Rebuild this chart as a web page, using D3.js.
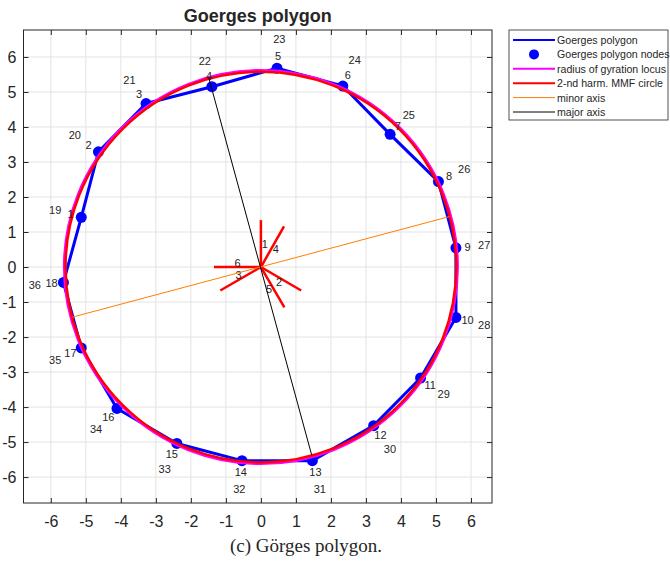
<!DOCTYPE html>
<html>
<head>
<meta charset="utf-8">
<script src="https://cdn.jsdelivr.net/npm/d3@7"></script>
<style>
  body { margin: 0; background: #fff; }
  text { font-family: "Liberation Sans", Arial, sans-serif; fill: #262626; }
</style>
</head>
<body>
<div id="chart"></div>
<script>
// node coordinates of the polygon
const nodeX = [-5.13, -4.64, -3.28, -1.40, 0.46, 2.34, 3.69, 5.07, 5.57, 5.57, 4.56, 3.22, 1.47, -0.54, -2.40, -4.11, -5.13, -5.64];
const nodeY = [1.42, 3.29, 4.67, 5.15, 5.68, 5.17, 3.79, 2.44, 0.55, -1.44, -3.17, -4.53, -5.53, -5.53, -5.04, -4.04, -2.31, -0.44];
const innerLabels = ['1','2','3','4','5','6','7','8','9','10','11','12','13','14','15','16','17','18'];
const outerLabels = ['19','20','21','22','23','24','25','26','27','28','29','30','31','32','33','34','35','36'];

// star of slot vectors
const starX = [0, 1.15, -1.16, 0.66, 0.67, -1.34];
const starY = [1.34, -0.67, -0.67, 1.16, -1.15, 0];
const starLabels = ['1','2','3','4','5','6'];

// circles
const gyrationRadius = 5.62;
const mmfRadius = 5.58;

// axes of inertia
const minorX = [-5.38, 5.38];
const minorY = [-1.43, 1.44];
const majorX = [-1.49, 1.45];
const majorY = [5.41, -5.37];

const ticks = [-6, -5, -4, -3, -2, -1, 0, 1, 2, 3, 4, 5, 6];

const legendItems = ['Goerges polygon', 'Goerges polygon nodes', 'radius of gyration locus',
                     '2-nd harm. MMF circle', 'minor axis', 'major axis'];

const W = 670, H = 564;
const box = { left: 23.5, right: 492, top: 30, bottom: 503 };

const svg = d3.select('#chart')
              .append('svg')
              .attr('width', W)
              .attr('height', H);

svg.append('rect').attr('width', W).attr('height', H).attr('fill', '#fff');

const x = d3.scaleLinear().domain([-6.78, 6.6]).range([box.left, box.right]);
const y = d3.scaleLinear().domain([-6.74, 6.77]).range([box.bottom, box.top]);

// grid
const grid = svg.append('g').attr('stroke', '#e3e3e3').attr('stroke-width', 1);
grid.selectAll('.gx').data(ticks).enter().append('line')
    .attr('x1', d => x(d)).attr('x2', d => x(d))
    .attr('y1', box.top).attr('y2', box.bottom);
grid.selectAll('.gy').data(ticks).enter().append('line')
    .attr('y1', d => y(d)).attr('y2', d => y(d))
    .attr('x1', box.left).attr('x2', box.right);

// axes (plain hyphen minus like the original)
const fmt = d => String(d);
const bottomAxis = d3.axisBottom(x).tickValues(ticks).tickFormat(fmt).tickSize(-5).tickPadding(13);
const leftAxis = d3.axisLeft(y).tickValues(ticks).tickFormat(fmt).tickSize(-5).tickPadding(7);
const topAxis = d3.axisTop(x).tickValues(ticks).tickSize(-5).tickFormat('');
const rightAxis = d3.axisRight(y).tickValues(ticks).tickSize(-5).tickFormat('');

function styleAxis(g) {
  g.select('.domain').remove();
  g.selectAll('line').attr('stroke', '#262626');
  g.selectAll('text').attr('fill', '#262626').style('font-size', '16px')
   .style('font-family', '"Liberation Sans", Arial, sans-serif');
}

svg.append('g').attr('transform', `translate(0, ${box.bottom})`).call(bottomAxis).call(styleAxis);
svg.append('g').attr('transform', `translate(${box.left}, 0)`).call(leftAxis).call(styleAxis);
svg.append('g').attr('transform', `translate(0, ${box.top})`).call(topAxis).call(styleAxis);
svg.append('g').attr('transform', `translate(${box.right}, 0)`).call(rightAxis).call(styleAxis);

svg.append('rect')
   .attr('x', box.left).attr('y', box.top)
   .attr('width', box.right - box.left).attr('height', box.bottom - box.top)
   .attr('fill', 'none').attr('stroke', '#262626').attr('stroke-width', 1);

const plot = svg.append('g');
const nodes = nodeX.map((d, i) => [d, nodeY[i]]);

// polygon
plot.append('path')
    .datum(nodes)
    .attr('d', d3.line().x(d => x(d[0])).y(d => y(d[1])).curve(d3.curveLinearClosed))
    .attr('fill', 'none').attr('stroke', '#0000ff').attr('stroke-width', 3)
    .attr('stroke-linejoin', 'round');

plot.selectAll('.node')
    .data(nodes)
    .enter()
    .append('circle')
    .attr('cx', d => x(d[0])).attr('cy', d => y(d[1]))
    .attr('r', 5.5).attr('fill', '#0000ff');

// circles
plot.append('circle')
    .attr('cx', x(0)).attr('cy', y(0)).attr('r', x(gyrationRadius) - x(0))
    .attr('fill', 'none').attr('stroke', '#ff00ff').attr('stroke-width', 2.5);
plot.append('circle')
    .attr('cx', x(0)).attr('cy', y(0)).attr('r', x(mmfRadius) - x(0))
    .attr('fill', 'none').attr('stroke', '#ff0000').attr('stroke-width', 2.5);

// star
plot.selectAll('.spoke')
    .data(starX)
    .enter()
    .append('line')
    .attr('x1', x(0)).attr('y1', y(0))
    .attr('x2', d => x(d)).attr('y2', (d, i) => y(starY[i]))
    .attr('stroke', '#ff0000').attr('stroke-width', 2.5);

plot.selectAll('.spokeLabel')
    .data(starLabels)
    .enter()
    .append('text')
    .each(function(d, i) {
      const px = (x(starX[i]) + x(0)) / 2, py = (y(starY[i]) + y(0)) / 2;
      const dx = x(starX[i]) - x(0), dy = y(starY[i]) - y(0);
      const len = Math.hypot(dx, dy);
      d3.select(this)
        .attr('x', px - dy / len * 4)
        .attr('y', py + dx / len * 4);
    })
    .attr('text-anchor', 'middle').attr('dominant-baseline', 'central')
    .style('font-size', '11px')
    .text(d => d);

// minor / major axis
plot.append('line')
    .attr('x1', x(minorX[0])).attr('y1', y(minorY[0]))
    .attr('x2', x(minorX[1])).attr('y2', y(minorY[1]))
    .attr('stroke', '#ff8000').attr('stroke-width', 1);
plot.append('line')
    .attr('x1', x(majorX[0])).attr('y1', y(majorY[0]))
    .attr('x2', x(majorX[1])).attr('y2', y(majorY[1]))
    .attr('stroke', '#000').attr('stroke-width', 1);

// node labels
function nodeLabels(labels, k) {
  plot.selectAll(null)
      .data(labels)
      .enter()
      .append('text')
      .attr('x', (d, i) => x(nodeX[i] * k))
      .attr('y', (d, i) => y(nodeY[i] * k))
      .attr('text-anchor', 'middle').attr('dominant-baseline', 'central')
      .style('font-size', '11px')
      .text(d => d);
}
nodeLabels(innerLabels, 1.06);
nodeLabels(outerLabels, 1.145);

// title
svg.append('text')
   .attr('x', (box.left + box.right) / 2).attr('y', 22)
   .attr('text-anchor', 'middle')
   .style('font-size', '18px').style('font-weight', 'bold')
   .attr('fill', '#000')
   .text('Goerges polygon');

// legend
const legend = svg.append('g');
legend.append('rect')
      .attr('x', 509).attr('y', 30).attr('width', 159).attr('height', 90)
      .attr('fill', '#fff').attr('stroke', '#262626').attr('stroke-width', 0.8);

const legendColors = ['#0000ff', '#0000ff', '#ff00ff', '#ff0000', '#ff8000', '#000'];
const legendWidths = [2, 0, 2, 2, 1, 1];
legendItems.forEach((name, i) => {
  const ly = 40 + i * 14.4;
  if (i === 1) {
    legend.append('circle').attr('cx', 534).attr('cy', ly).attr('r', 5).attr('fill', '#0000ff');
  } else {
    legend.append('line').attr('x1', 513).attr('x2', 555).attr('y1', ly).attr('y2', ly)
          .attr('stroke', legendColors[i]).attr('stroke-width', legendWidths[i]);
  }
  legend.append('text').attr('x', 557).attr('y', ly)
        .attr('dominant-baseline', 'central')
        .style('font-size', '10.6px').attr('fill', '#000')
        .text(name);
});

// caption
svg.append('text')
   .attr('x', 306).attr('y', 552)
   .attr('text-anchor', 'middle')
   .style('font-family', '"Liberation Serif", "Times New Roman", serif')
   .style('font-size', '19px').attr('fill', '#000')
   .text('(c) Görges polygon.');
</script>
</body>
</html>
